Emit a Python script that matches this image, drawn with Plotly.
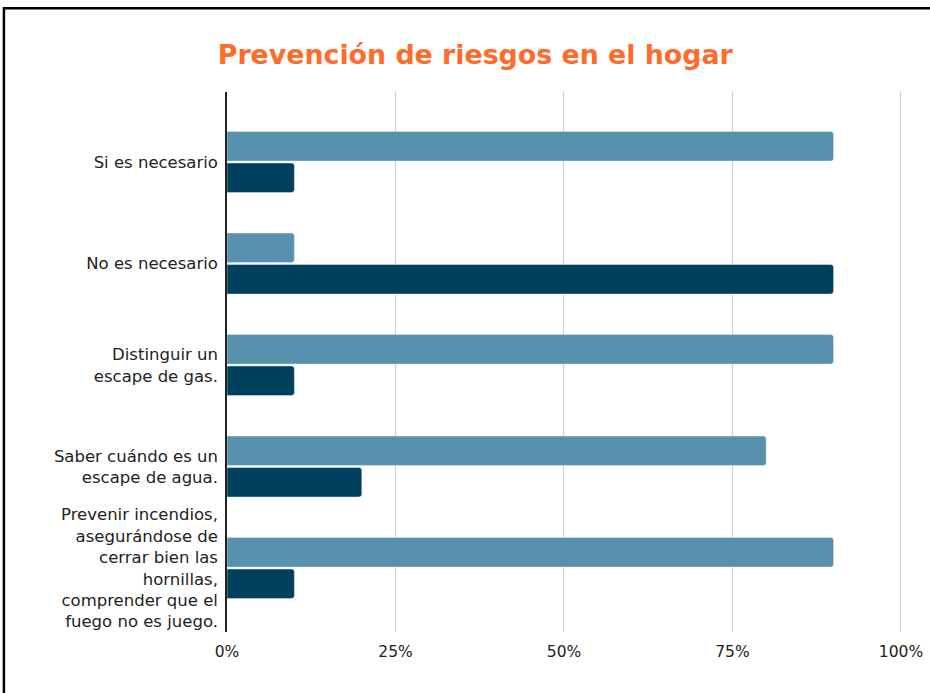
import plotly.graph_objects as go

categorias = [
    "Si es necesario",
    "No es necesario",
    "Distinguir un<br>escape de gas.",
    "Saber cuándo es un<br>escape de agua.",
    "Prevenir incendios,<br>asegurándose de<br>cerrar bien las<br>hornillas,<br>comprender que el<br>fuego no es juego.",
]
serie_clara = [0.90, 0.10, 0.90, 0.80, 0.90]
serie_oscura = [0.10, 0.90, 0.10, 0.20, 0.10]
ticks_x = [0, 0.25, 0.5, 0.75, 1.0]
ticks_x_texto = ["0%", "25%", "50%", "75%", "100%"]

fuente = "DejaVu Sans, Liberation Sans, Arial"

fig = go.Figure()
fig.add_trace(go.Bar(
    y=categorias, x=serie_clara, orientation="h",
    marker=dict(color="#5891ad", cornerradius=3),
    showlegend=False,
))
fig.add_trace(go.Bar(
    y=categorias, x=serie_oscura, orientation="h",
    marker=dict(color="#013f5e", cornerradius=3),
    showlegend=False,
))

fig.update_layout(
    width=930, height=693,
    margin=dict(l=227, r=27, t=92, b=61),
    paper_bgcolor="white",
    plot_bgcolor="white",
    barmode="group",
    bargap=0.38,
    bargroupgap=0.06,
    font=dict(family=fuente, size=15, color="#222222"),
    title=dict(
        text="<b>Prevención de riesgos en el hogar</b>",
        font=dict(family=fuente, size=26.8, color="#ff6b2b"),
        xref="container", x=0.511, xanchor="center",
        yref="container", y=0.921, yanchor="middle",
    ),
    xaxis=dict(
        range=[0, 1.003],
        automargin=False,
        tickvals=ticks_x, ticktext=ticks_x_texto,
        showgrid=True, gridcolor="#cccccc", gridwidth=1,
        zeroline=False, showline=False,
        ticks="", ticklabelstandoff=8,
        tickfont=dict(size=15.5, color="#222222"),
    ),
    yaxis=dict(
        type="category",
        range=[4.63, -0.69],
        automargin=False,
        showgrid=False, zeroline=False,
        showline=True, linecolor="#222222", linewidth=1.5,
        ticks="", ticklabelstandoff=4,
        tickfont=dict(size=16.5, color="#222222"),
    ),
    shapes=[dict(
        type="rect", xref="paper", yref="paper",
        x0=-0.33, x1=1.3, y0=-0.3, y1=1.155,
        line=dict(color="black", width=2.5),
        fillcolor="rgba(0,0,0,0)", layer="above",
    )],
)

fig.write_html(
    "out.html",
    config={"displayModeBar": False},
    post_script="document.body.style.margin='0';document.body.style.overflow='hidden';",
)
